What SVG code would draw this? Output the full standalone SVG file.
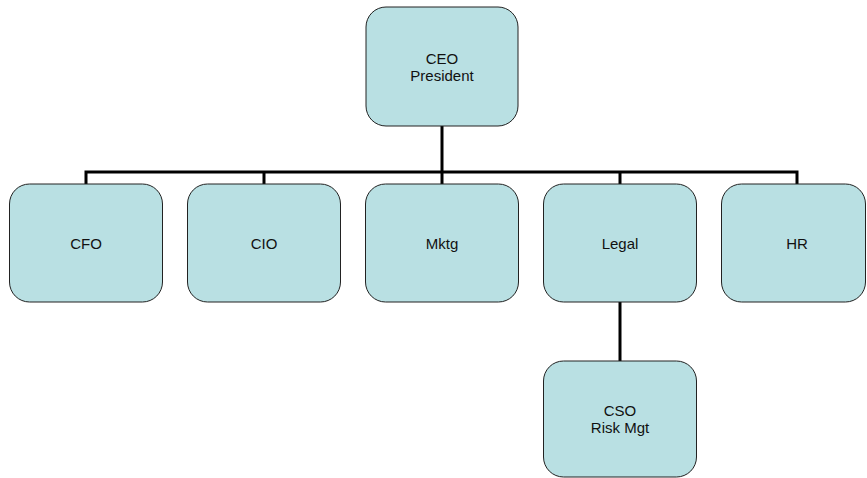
<svg xmlns="http://www.w3.org/2000/svg" width="867" height="478" viewBox="0 0 867 478">
  <style>
    .box { fill: #B9E0E3; stroke: #222; stroke-width: 1; }
    .lbl { font-family: "Liberation Sans", Arial, sans-serif; font-size: 15px; fill: #111; text-anchor: middle; }
    .wire { fill: none; stroke: #000; stroke-width: 3; }
  </style>
  <rect width="867" height="478" fill="#fff"/>

  <!-- connectors -->
  <g id="connectors">
    <path class="wire" d="M442 126 V172"/>
    <path class="wire" d="M86 184 V172 H797 V184"/>
    <path class="wire" d="M264 172 V184"/>
    <path class="wire" d="M442 172 V184"/>
    <path class="wire" d="M620 172 V184"/>
    <path class="wire" d="M620 302 V361"/>
  </g>

  <g id="ceo">
    <rect class="box" x="366" y="7" width="152" height="119" rx="20" ry="20"/>
    <text class="lbl" x="442" y="64">CEO</text>
    <text class="lbl" x="442" y="81">President</text>
  </g>

  <g id="cfo">
    <rect class="box" x="9.5" y="184" width="153" height="118" rx="20" ry="20"/>
    <text class="lbl" x="86" y="249">CFO</text>
  </g>

  <g id="cio">
    <rect class="box" x="187.5" y="184" width="153" height="118" rx="20" ry="20"/>
    <text class="lbl" x="264" y="249">CIO</text>
  </g>

  <g id="mktg">
    <rect class="box" x="365.5" y="184" width="153" height="118" rx="20" ry="20"/>
    <text class="lbl" x="442" y="249">Mktg</text>
  </g>

  <g id="legal">
    <rect class="box" x="543.5" y="184" width="153" height="118" rx="20" ry="20"/>
    <text class="lbl" x="620" y="249">Legal</text>
  </g>

  <g id="hr">
    <rect class="box" x="721.5" y="184" width="144" height="118" rx="20" ry="20"/>
    <text class="lbl" x="797" y="249">HR</text>
  </g>

  <g id="cso">
    <rect class="box" x="543.5" y="361" width="153" height="116" rx="20" ry="20"/>
    <text class="lbl" x="620" y="416">CSO</text>
    <text class="lbl" x="620" y="433">Risk Mgt</text>
  </g>
</svg>
